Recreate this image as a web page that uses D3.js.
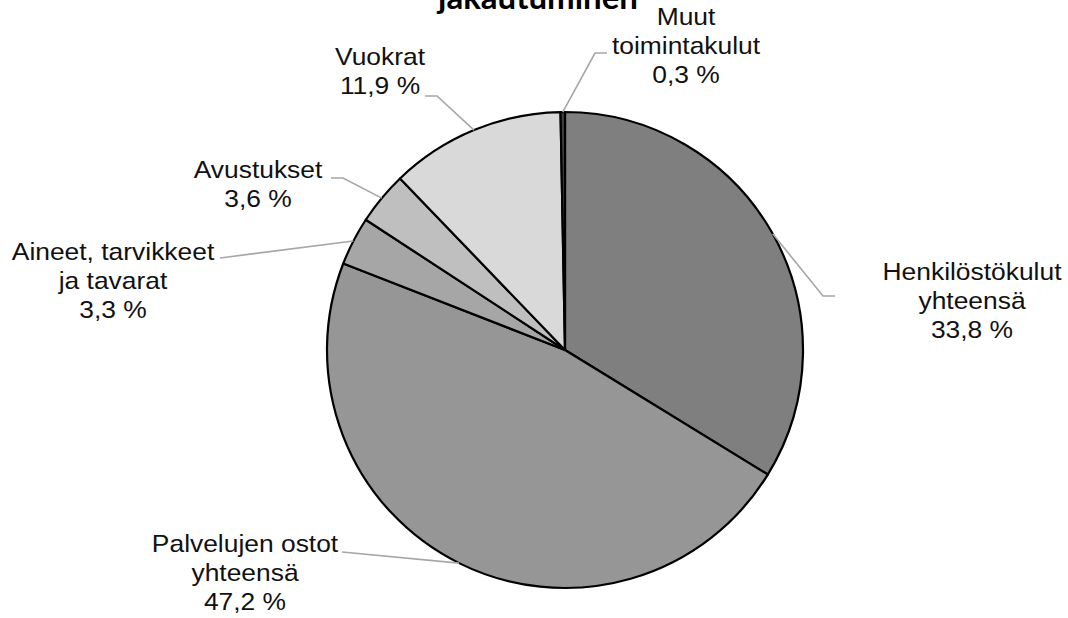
<!DOCTYPE html>
<html>
<head>
<meta charset="utf-8">
<script src="https://cdn.jsdelivr.net/npm/d3@7"></script>
<style>
  body { margin: 0; background: #fff; }
  svg { display: block; }
</style>
</head>
<body>
<svg id="chart"></svg>
<script>
const width = 1068;
const height = 618;

// data
const categories = ["Henkilöstökulut yhteensä", "Palvelujen ostot yhteensä",
  "Aineet, tarvikkeet ja tavarat", "Avustukset", "Vuokrat", "Muut toimintakulut"];
const labelLines = [
  ["Henkilöstökulut", "yhteensä", "33,8 %"],
  ["Palvelujen ostot", "yhteensä", "47,2 %"],
  ["Aineet, tarvikkeet", "ja tavarat", "3,3 %"],
  ["Avustukset", "3,6 %"],
  ["Vuokrat", "11,9 %"],
  ["Muut", "toimintakulut", "0,3 %"]
];
const values = [33.8, 47.2, 3.3, 3.6, 11.9, 0.3];
const titleText = "jakautuminen";

// layout for labels: text centre, first line y, elbow and end of leader line
const labelLayout = [
  { x: 972, y: 272, elbow: [823, 296], end: [835, 296] },
  { x: 245, y: 544, elbow: [342, 552], end: [342, 552] },
  { x: 113, y: 252, elbow: [220, 258], end: [220, 258] },
  { x: 258, y: 170, elbow: [343, 178], end: [331, 178] },
  { x: 380, y: 57, elbow: [437, 96], end: [425, 96] },
  { x: 686, y: 17, elbow: [595, 53], end: [607, 53] }
];

const colors = ["#7f7f7f", "#969696", "#a6a6a6", "#bfbfbf", "#d9d9d9", "#404040"];

const cx = 565, cy = 350, r = 238;

const svg = d3.select("#chart")
  .attr("width", width)
  .attr("height", height)
  .attr("viewBox", [0, 0, width, height]);

// title: first line lies above the picture, as in the original
svg.append("text")
  .attr("x", 538)
  .attr("y", 9)
  .attr("text-anchor", "middle")
  .attr("font-family", "Lato, 'Liberation Sans', sans-serif")
  .attr("font-weight", "bold")
  .attr("font-size", 33)
  .attr("fill", "#000")
  .text(titleText);

const pie = d3.pie().sort(null).value(d => d);
const arcs = pie(values);

const arc = d3.arc().innerRadius(0).outerRadius(r);

const g = svg.append("g").attr("transform", `translate(${cx},${cy})`);

g.selectAll("path")
  .data(arcs)
  .enter()
  .append("path")
  .attr("d", arc)
  .attr("fill", (d, i) => colors[i])
  .attr("stroke", "#000")
  .attr("stroke-width", 2.2)
  .attr("stroke-linejoin", "round");

// leader lines
const edge = d => {
  const a = (d.startAngle + d.endAngle) / 2;
  return [cx + r * Math.sin(a), cy - r * Math.cos(a)];
};

svg.selectAll("polyline.leader")
  .data(arcs)
  .enter()
  .append("polyline")
  .attr("class", "leader")
  .attr("points", (d, i) => {
    const L = labelLayout[i];
    return [edge(d), L.elbow, L.end].map(p => p.join(",")).join(" ");
  })
  .attr("fill", "none")
  .attr("stroke", "#a6a6a6")
  .attr("stroke-width", 1.6);

// labels (slightly wide face, like the original)
const labels = svg.selectAll("text.label")
  .data(arcs)
  .enter()
  .append("text")
  .attr("class", "label")
  .attr("transform", (d, i) => `translate(${labelLayout[i].x},${labelLayout[i].y}) scale(1.1,1)`)
  .attr("text-anchor", "middle")
  .attr("font-family", "'Liberation Sans', Arial, sans-serif")
  .attr("font-size", 24)
  .attr("fill", "#111");

labels.each(function (d, i) {
  d3.select(this).selectAll("tspan")
    .data(labelLines[i])
    .enter()
    .append("tspan")
    .attr("x", 0)
    .attr("y", (t, j) => j * 29)
    .attr("dy", "0.35em")
    .text(t => t);
});
</script>
</body>
</html>
